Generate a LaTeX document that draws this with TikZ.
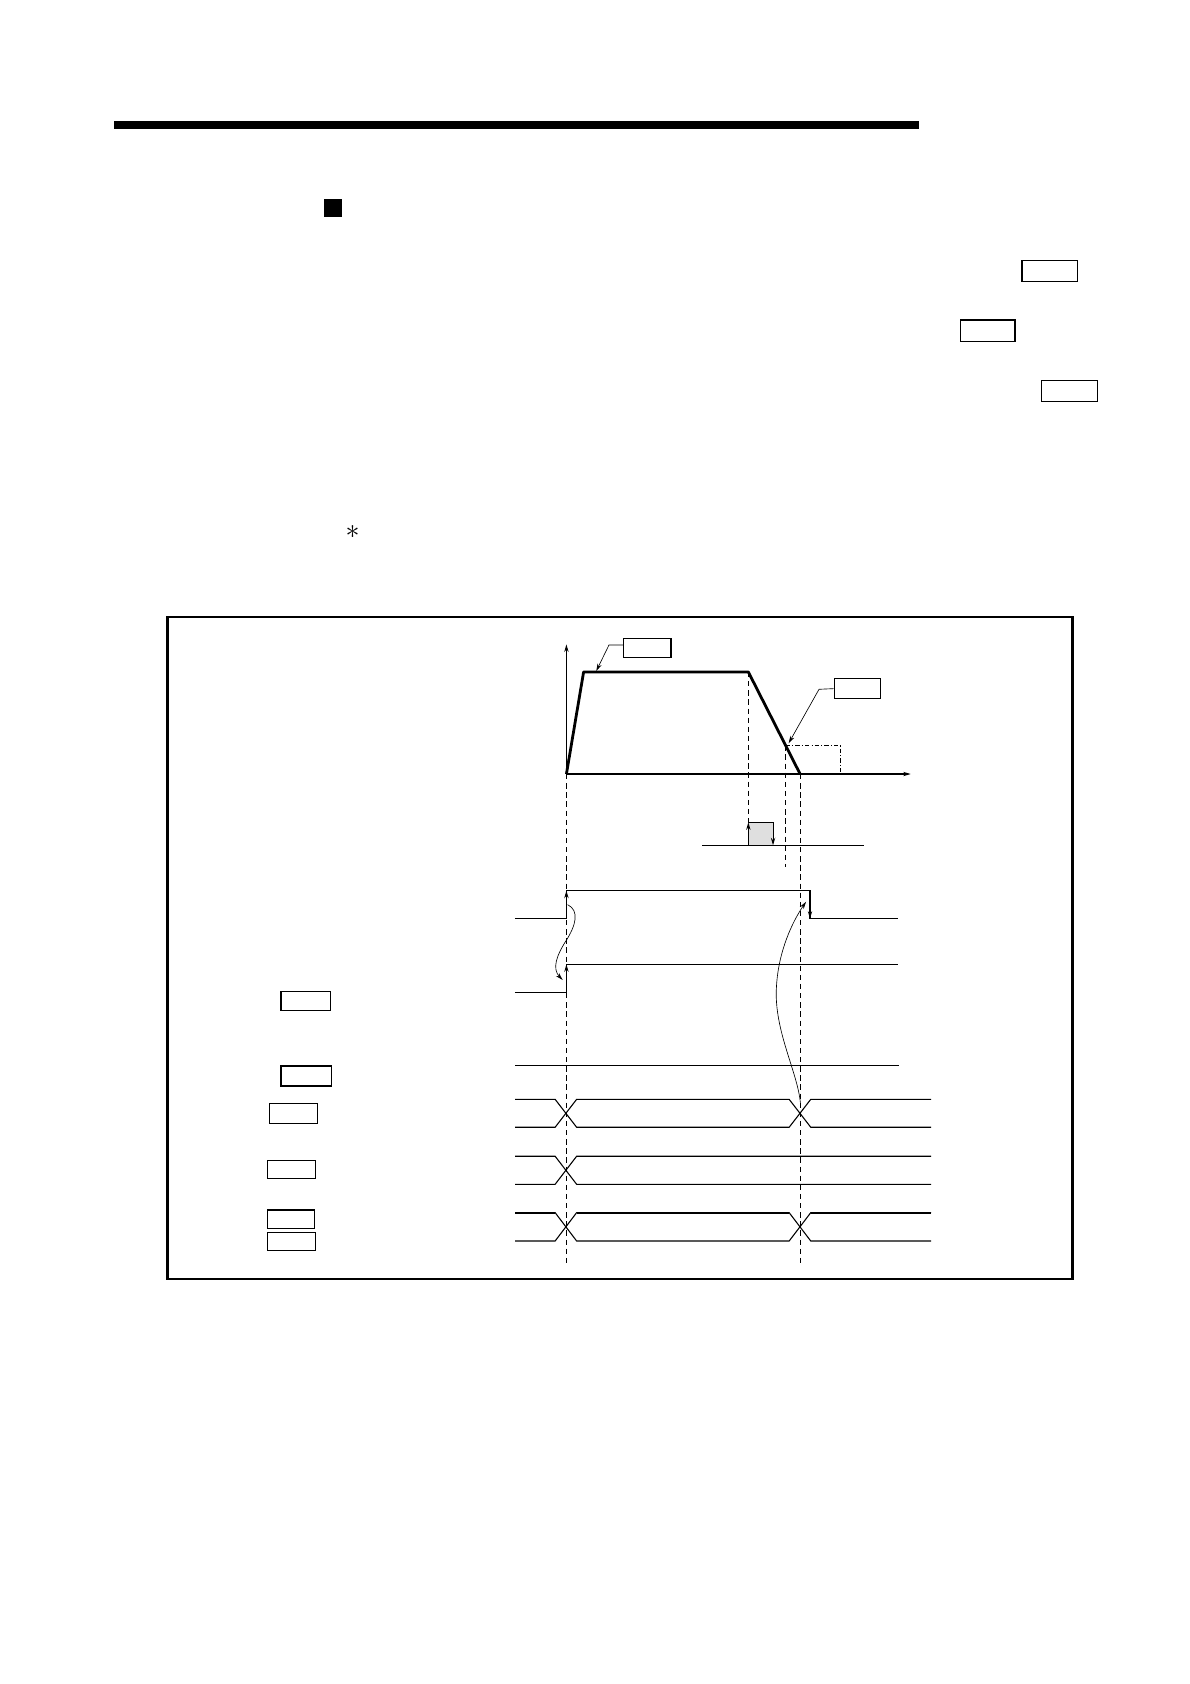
\documentclass[tikz,border=0pt]{standalone}
\usetikzlibrary{arrows.meta}
\begin{document}
\begin{tikzpicture}[x=1pt,y=-1pt,
  lbox/.style={draw,line width=1.1pt,inner sep=0pt,minimum width=#1},
  lbox/.default=45pt,
  sig/.style={line width=1pt},
  dsh/.style={line width=0.8pt,dash pattern=on 5pt off 3.5pt},
  tip/.style={-{Stealth[length=7pt,width=4pt]}},
  thin arr/.style={line width=0.6pt,-{Stealth[length=7pt,width=4pt]}}]
\useasboundingbox (0,0) rectangle (1108,1568);
% header bar and square
\fill (106,112.5) rectangle (855.6,120);
\fill (302,185) rectangle (318.5,202);
% boxes at right of text
\node[lbox=52pt,minimum height=20pt] (r1) at (977.6,252.3) {};
\node[lbox=51pt,minimum height=20pt] (r2) at (919.5,308) {};
\node[lbox=52pt,minimum height=20pt] (r3) at (996,364) {};
\node[scale=2.6] (ast) at (328.2,495.8) {$\ast$};
% frame
\draw[line width=2.5pt] (156,574.5) rectangle (998.5,1191);
% speed chart
\coordinate (O) at (527.4,720.7);
\draw[line width=1pt,tip] (O) -- (527.4,600);
\draw[line width=1pt,tip] (O) -- (848,720.7);
\coordinate (A1) at (543.4,625.7);
\coordinate (A2) at (696.8,625.7);
\coordinate (A3) at (745,720.7);
\draw[line width=2.6pt,line join=round] (O) -- (A1) -- (A2) -- (A3);
\node[lbox=44pt,minimum height=18pt] (bA) at (602.7,603.4) {};
\node[lbox=43pt,minimum height=19pt] (bB) at (798.3,641.2) {};
\draw[line width=0.6pt,tip] ([yshift=2.8pt]bA.west) -- (567,600.6) -- (555.2,624.8);
\draw[line width=0.6pt,tip] (bB.west) -- (762.6,641.8) -- (734.3,692.1);
\draw[line width=0.8pt,dash pattern=on 4pt off 2pt on 1pt off 2pt] (731.6,693.9) -- (782.4,693.9) -- (782.4,720.7);
% pulse
\fill[gray!25] (696.8,765.7) rectangle (719.8,787.1);
\draw[sig] (654.1,787.1) -- (804.8,787.1);
\draw[sig,tip] (696.8,787.1) -- (696.8,765.7);
\draw[sig] (696.8,765.7) -- (719.8,765.7);
\draw[sig,tip] (719.8,765.7) -- (719.8,787.1);
% dashed verticals
\draw[dsh] (A2) -- (696.8,765.7);
\draw[dsh] (731.6,693.9) -- (731.6,807);
\draw[dsh] (O) -- (527.4,1178);
\draw[dsh] (A3) -- (745,1178);
% signal 1
\draw[sig] (479.5,855.4) -- (527.4,855.4) -- (527.4,829.3) -- (754.2,829.3) -- (754.2,855.4) -- (836.4,855.4);
\draw[sig,tip] (527.4,855.4) -- (527.4,829.3);
\draw[sig,tip] (754.2,829.3) -- (754.2,855.4);
% signal 2
\draw[sig] (479.5,924) -- (527.4,924) -- (527.4,897.9) -- (836.4,897.9);
\draw[sig,tip] (527.4,924) -- (527.4,897.9);
% signal 3
\draw[sig] (479.6,991.9) -- (837,991.9);
% signal 4 (bus, two transitions)
\draw[sig] (479.6,1023.6) -- (516.9,1023.6) -- (536.9,1049.6) -- (734.8,1049.6) -- (754.9,1023.6) -- (867,1023.6);
\draw[sig] (479.6,1049.6) -- (516.9,1049.6) -- (536.9,1023.6) -- (734.8,1023.6) -- (754.9,1049.6) -- (867,1049.6);
% signal 5 (one transition)
\draw[sig] (479.6,1076.6) -- (516.9,1076.6) -- (536.9,1102.7) -- (867,1102.7);
\draw[sig] (479.6,1102.7) -- (516.9,1102.7) -- (536.9,1076.6) -- (867,1076.6);
% signal 6
\draw[sig] (479.6,1129.1) -- (516.9,1129.1) -- (536.9,1155.5) -- (734.8,1155.5) -- (754.9,1129.1) -- (867,1129.1);
\draw[sig] (479.6,1155.5) -- (516.9,1155.5) -- (536.9,1129.1) -- (734.8,1129.1) -- (754.9,1155.5) -- (867,1155.5);
\draw[line width=1.9pt] (479.6,1129.1) -- (516.9,1129.1);
\draw[line width=1.9pt] (536.9,1129.1) -- (734.8,1129.1);
\draw[line width=1.9pt] (754.9,1129.1) -- (867,1129.1);
% curved arrows
\draw[thin arr] (528.5,842.3) .. controls (540,848) and (536,862) .. (527,876) .. controls (518,890) and (514,902) .. (523.9,912.5);
\draw[thin arr] (745.5,1030) .. controls (744,1000) and (720,960) .. (723,918) .. controls (725,885) and (738,858) .. (750.5,839.6);
% left boxes
\node[lbox=46pt,minimum height=17.6pt] (L1) at (284.6,932.2) {};
\node[lbox=47pt,minimum height=18.6pt] (L2) at (285.1,1001.9) {};
\node[lbox=44pt,minimum height=18.7pt] (L3) at (273.3,1036.6) {};
\node[lbox=45pt,minimum height=17pt] (L4) at (271.2,1089) {};
\node[lbox=44pt,minimum height=17.4pt] (L5) at (270.8,1135.3) {};
\node[lbox=45pt,minimum height=16.7pt] (L6) at (271.2,1156.1) {};
\end{tikzpicture}
\end{document}
